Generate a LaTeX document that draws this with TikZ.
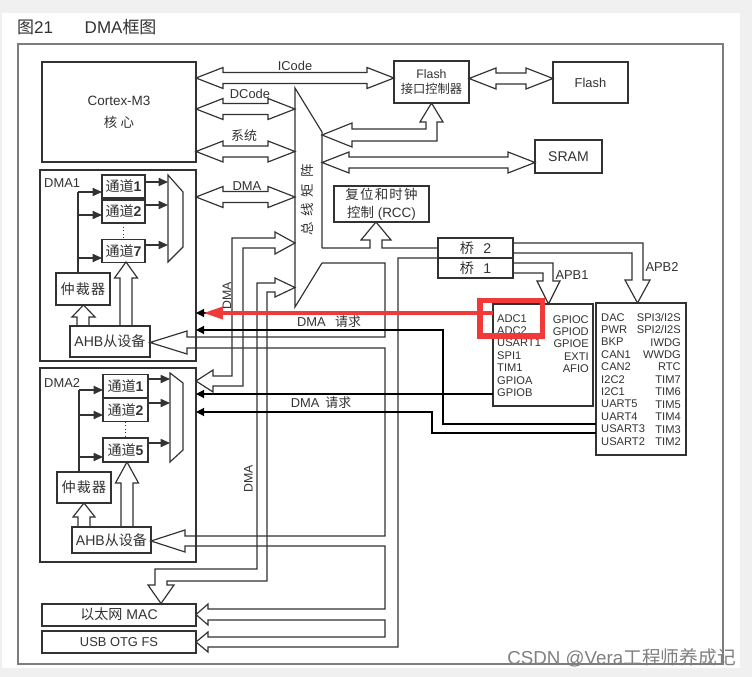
\documentclass[tikz,border=0pt]{standalone}
\usepackage{fontspec}
\setmainfont{Liberation Sans}
\newfontfamily\cjk{Noto Sans CJK SC}
\usetikzlibrary{arrows.meta, calc}
\definecolor{linec}{RGB}{50,50,50}
\definecolor{framec}{RGB}{125,125,125}
\definecolor{bgc}{RGB}{240,240,240}
\definecolor{markred}{RGB}{240,58,58}
\newcommand\zh[1]{{\cjk #1}}
\tikzset{
  wh/.style 2 args={minimum width=#1*0.03cm, minimum height=#2*0.03cm},
  box/.style={draw=linec, line width=1pt, inner sep=0pt, outer sep=0pt, align=center, text=linec, font=\fontsize{11}{13}\selectfont},
  heavy/.style={box, line width=1.7pt},
  bus/.style={draw=linec, line width=1pt, line join=miter},
  tip/.style={draw=linec, line width=1pt, -{Triangle[length=8pt,width=7pt]}},
  req/.style={draw=black, line width=1pt, -{Triangle[length=7pt,width=7pt]}},
  lbl/.style={inner sep=0pt, text=linec, font=\fontsize{11}{12}\selectfont},
  col/.style={inner sep=0pt, text=linec, font=\fontsize{9.5}{10.6}\selectfont},
  big/.style={font=\fontsize{12}{14}\selectfont}
}
% horizontal hollow bus with a head at both ends: x1, x2, y
\newcommand\dblbus[3]{%
  \draw[bus] (#1,#3) -- (#1+27,#3-10.5) -- (#1+27,#3-5.5) -- (#2-27,#3-5.5) -- (#2-27,#3-10.5) -- (#2,#3)
    -- (#2-27,#3+10.5) -- (#2-27,#3+5.5) -- (#1+27,#3+5.5) -- (#1+27,#3+10.5) -- cycle;}

\begin{document}
\begin{tikzpicture}[x=0.03cm, y=-0.03cm]
  \useasboundingbox (0,0) rectangle (752,677);
  \fill[bgc] (0,0) rectangle (752,677);
  \fill[white] (2,13) rectangle (740,668);
  \draw[framec, line width=1.2pt] (18,44) rectangle (723,664);
  \node[anchor=west, inner sep=0pt, text=linec, font=\fontsize{14.5}{16}\selectfont] (title) at (17,27) {\zh{图}21\hspace{27pt}DMA\zh{框图}};

  % core, memories, bus matrix
  \node[box, wh={154}{100}, font=\fontsize{11.5}{19}\selectfont] (cortex) at (119,112) {Cortex-M3\\\zh{核\hspace{3pt}心}};
  \node[box, wh={75}{42}, font=\fontsize{10.5}{13}\selectfont] (flashif) at (431.5,82) {Flash\\\zh{接口控制器}};
  \node[box, wh={75}{41}] (flash) at (590.5,82.5) {Flash};
  \node[heavy, wh={67}{33}, big] (sram) at (568.5,156.5) {SRAM};
  \node[heavy, wh={95}{36}, font=\fontsize{11.5}{15}\selectfont] (rcc) at (381.5,204) {\zh{复\hspace{1pt}位\hspace{1pt}和\hspace{1pt}时\hspace{1pt}钟}\\\zh{控制} (RCC)};
  \node[box, wh={75}{20}, big] (bridgetwo) at (475.5,248) {\zh{桥}\hspace{8pt}2};
  \node[box, wh={75}{20}, big] (bridgeone) at (475.5,268) {\zh{桥}\hspace{8pt}1};

  \draw[bus] (322,248) -- (322,132) -- (295,88) -- (295,307) -- (322,263);
  \node[lbl, rotate=90, font=\cjk\fontsize{11.5}{12}\selectfont] (busmx) at (307,200) {总\hspace{5pt}线\hspace{5pt}矩\hspace{5pt}阵};

  \dblbus{196}{394}{78}
  \dblbus{196}{295}{109}
  \dblbus{196}{295}{151.5}
  \dblbus{196}{295}{197}
  \dblbus{469}{553}{78.5}
  \dblbus{322}{535}{162.5}
  \node[lbl] (icodelbl) at (295,66) {ICode};
  \node[lbl] (dcodelbl) at (250,94) {DCode};
  \node[lbl] (syslbl) at (244,136) {\zh{系统}};
  \node[lbl] (dmabuslbl) at (247,186) {DMA};

  \draw[bus] (322,135) -- (352,123) -- (352,129) -- (426,129) -- (426,122) -- (420,122) -- (flashif.south)
    -- (443,122) -- (437,122) -- (437,141) -- (352,141) -- (352,147) -- cycle;
  \draw[bus] (322,248) -- (370,248) -- (370,240) -- (361,240) -- (376,222) -- (391,240) -- (382,240) -- (382,248) -- (bridgetwo.west);

  % AHB bus down to the slaves
  \draw[bus] (322,263) -- (385,263) -- (385,337) -- (187,337) -- (187,331) -- (150,342.5) -- (187,354) -- (187,348)
    -- (385,348) -- (385,536) -- (185,536) -- (185,530) -- (151,541) -- (185,552) -- (185,546)
    -- (385,546) -- (385,609) -- (208,609) -- (208,604) -- (196,614.5) -- (208,625) -- (208,620)
    -- (385,620) -- (385,637) -- (208,637) -- (208,632) -- (196,642) -- (208,652) -- (208,647)
    -- (398,647) -- (398,258) -- (bridgeone.north west);

  % APB buses
  \draw[bus] (bridgeone.east |- 0,263) -- (553,263) -- (553,281) -- (560,281) -- (548.5,304) -- (537,281) -- (543,281) -- (543,273) -- (bridgeone.east |- 0,273);
  \draw[bus] (bridgetwo.east |- 0,243) -- (643,243) -- (643,280) -- (650,280) -- (637.5,303) -- (625,280) -- (632,280) -- (632,253) -- (bridgetwo.east |- 0,253);
  \node[lbl] (apbonelbl) at (572,275) {APB1};
  \node[lbl] (apbtwolbl) at (662,267) {APB2};

  \node[heavy, wh={100}{102}] (apbone) at (543,355) {};
  \node[heavy, wh={90}{152}] (apbtwo) at (641,379) {};
  \node[col, anchor=north west, align=left] (apbonel) at (497,314) {ADC1\\ADC2\\USART1\\SPI1\\TIM1\\GPIOA\\GPIOB};
  \node[col, anchor=north east, align=right] (apboner) at (589,315) {GPIOC\\GPIOD\\GPIOE\\EXTI\\AFIO};
  \node[col, anchor=north west, align=left] (apbtwol) at (601,313) {DAC\\PWR\\BKP\\CAN1\\CAN2\\I2C2\\I2C1\\UART5\\UART4\\USART3\\USART2};
  \node[col, anchor=north east, align=right] (apbtwor) at (681,313) {SPI3/I2S\\SPI2/I2S\\IWDG\\WWDG\\RTC\\TIM7\\TIM6\\TIM5\\TIM4\\TIM3\\TIM2};

  % DMA1
  \node[box, wh={156}{191}] (dmaone) at (118,265.5) {};
  \node[lbl, anchor=west] (dmaonelbl) at (44,183) {DMA1};
  \node[box, wh={43}{23}, big] (chone) at (123.5,186.5) {\zh{通道}\textbf{1}};
  \node[box, wh={43}{23}, big] (chtwo) at (123.5,211.5) {\zh{通道}\textbf{2}};
  \node[box, wh={43}{23}, big] (chseven) at (123.5,251) {\zh{通道}\textbf{7}};
  \draw[linec, dotted, line width=1pt] (chtwo.south) -- (chseven.north);
  \draw[bus] (168,175) -- (183,192) -- (183,247) -- (168,262) -- cycle;
  \coordinate (muxone) at (168,218);
  \foreach \ch/\yy in {chone/182, chtwo/205, chseven/245}
    \draw[tip] (\ch.east |- 0,\yy) -- (muxone |- 0,\yy);
  \node[box, wh={54}{32}, big] (arbone) at (83,289) {\zh{仲\hspace{1pt}裁\hspace{1pt}器}};
  \draw[linec, line width=1pt] (arbone.north -| 78,0) -- (78,192);
  \foreach \ch/\yy in {chone/192, chtwo/215, chseven/258}
    \draw[tip] (78,\yy) -- (\ch.west |- 0,\yy);
  \node[box, wh={80}{31}, font=\fontsize{12}{14}\selectfont] (ahbone) at (110,341.5) {AHB\zh{从设备}};
  \draw[bus] (77,326) -- (77,317) -- (72,317) -- (arbone.south -| 83.5,0) -- (95,317) -- (89,317) -- (89,326);
  \draw[bus] (120,326) -- (120,278) -- (114.5,278) -- (126,262) -- (137.5,278) -- (132,278) -- (132,326);

  % DMA2
  \node[box, wh={156}{194}] (dmatwo) at (118,465) {};
  \node[lbl, anchor=west] (dmatwolbl) at (44,383) {DMA2};
  \node[box, wh={45}{23}, big] (chtone) at (125.5,386) {\zh{通道}\textbf{1}};
  \node[box, wh={45}{23}, big] (chttwo) at (125.5,410) {\zh{通道}\textbf{2}};
  \node[box, wh={45}{24}, big] (chtfive) at (125.5,450) {\zh{通道}\textbf{5}};
  \draw[linec, dotted, line width=1pt] (chttwo.south) -- (chtfive.north);
  \draw[bus] (170,373) -- (183,383) -- (183,450) -- (170,462) -- cycle;
  \coordinate (muxtwo) at (170,418);
  \foreach \ch/\yy in {chtone/379, chttwo/403, chtfive/443}
    \draw[tip] (\ch.east |- 0,\yy) -- (muxtwo |- 0,\yy);
  \node[box, wh={54}{31}, big] (arbtwo) at (84,487.5) {\zh{仲\hspace{1pt}裁\hspace{1pt}器}};
  \draw[linec, line width=1pt] (arbtwo.north -| 79,0) -- (79,390);
  \foreach \ch/\yy in {chtone/390, chttwo/415, chtfive/457}
    \draw[tip] (79,\yy) -- (\ch.west |- 0,\yy);
  \node[box, wh={79}{26}, font=\fontsize{12}{14}\selectfont] (ahbtwo) at (111.5,540) {AHB\zh{从设备}};
  \draw[bus] (78,527) -- (78,517) -- (73,517) -- (84,503) -- (95,517) -- (90,517) -- (90,527);
  \draw[bus] (121,527) -- (121,483) -- (115.5,483) -- (127,462) -- (138.5,483) -- (133,483) -- (133,527);

  % DMA buses of DMA2 and Ethernet
  \draw[bus] (dmatwo.east |- 0,381) -- (213,370) -- (213,376) -- (232,376) -- (232,238) -- (275,238) -- (275,232)
    -- (295,243) -- (275,254) -- (275,248) -- (243,248) -- (243,386) -- (213,386) -- (213,392) -- cycle;
  \node[lbl, rotate=90, font=\fontsize{10.5}{12}\selectfont] (dmavone) at (227,296) {DMA};

  \node[heavy, wh={154}{22}, font=\fontsize{12}{14}\selectfont] (eth) at (119,614.5) {\zh{以太网} MAC};
  \node[heavy, wh={154}{22}] (usb) at (119,642) {USB OTG FS};
  \draw[bus] (295,287.5) -- (275,278) -- (275,283) -- (257,283) -- (257,569) -- (155,569) -- (155,585) -- (148,585)
    -- (eth.north -| 161,0) -- (174,585) -- (167,585) -- (167,581) -- (267,581) -- (267,292) -- (275,292) -- (275,297) -- cycle;
  \node[lbl, rotate=90, font=\fontsize{10.5}{12}\selectfont] (dmavtwo) at (248.5,479) {DMA};

  % DMA requests
  \draw[req] (apbone.west |- 0,313) -- (dmaone.east |- 0,313);
  \draw[req] (apbtwo.west |- 0,424) -- (443,424) -- (443,330) -- (dmaone.east |- 0,330);
  \draw[req] (apbone.west |- 0,394) -- (dmatwo.east |- 0,394);
  \draw[req] (apbtwo.west |- 0,433) -- (432,433) -- (432,412) -- (dmatwo.east |- 0,412);
  \node[lbl] (reqone) at (329,322) {DMA\hspace{8pt}\zh{请求}};
  \node[lbl] (reqtwo) at (321,403) {DMA\hspace{5pt}\zh{请求}};

  % red marking
  \node[draw=markred, line width=5pt, inner sep=0pt, wh={62.5}{35.5}] (redbox) at (511.25,318.25) {};
  \draw[markred, line width=3.4pt, -{Triangle[length=17pt,width=10pt]}] (apbone.west |- 0,313) -- ($(dmaone.east |- 0,313)+(7,0)$);

  \node[anchor=east, inner sep=0pt, text=gray, font=\fontsize{16}{18}\selectfont] (mark) at (736,658) {CSDN @Vera\zh{工程师养成记}};
\end{tikzpicture}
\end{document}
